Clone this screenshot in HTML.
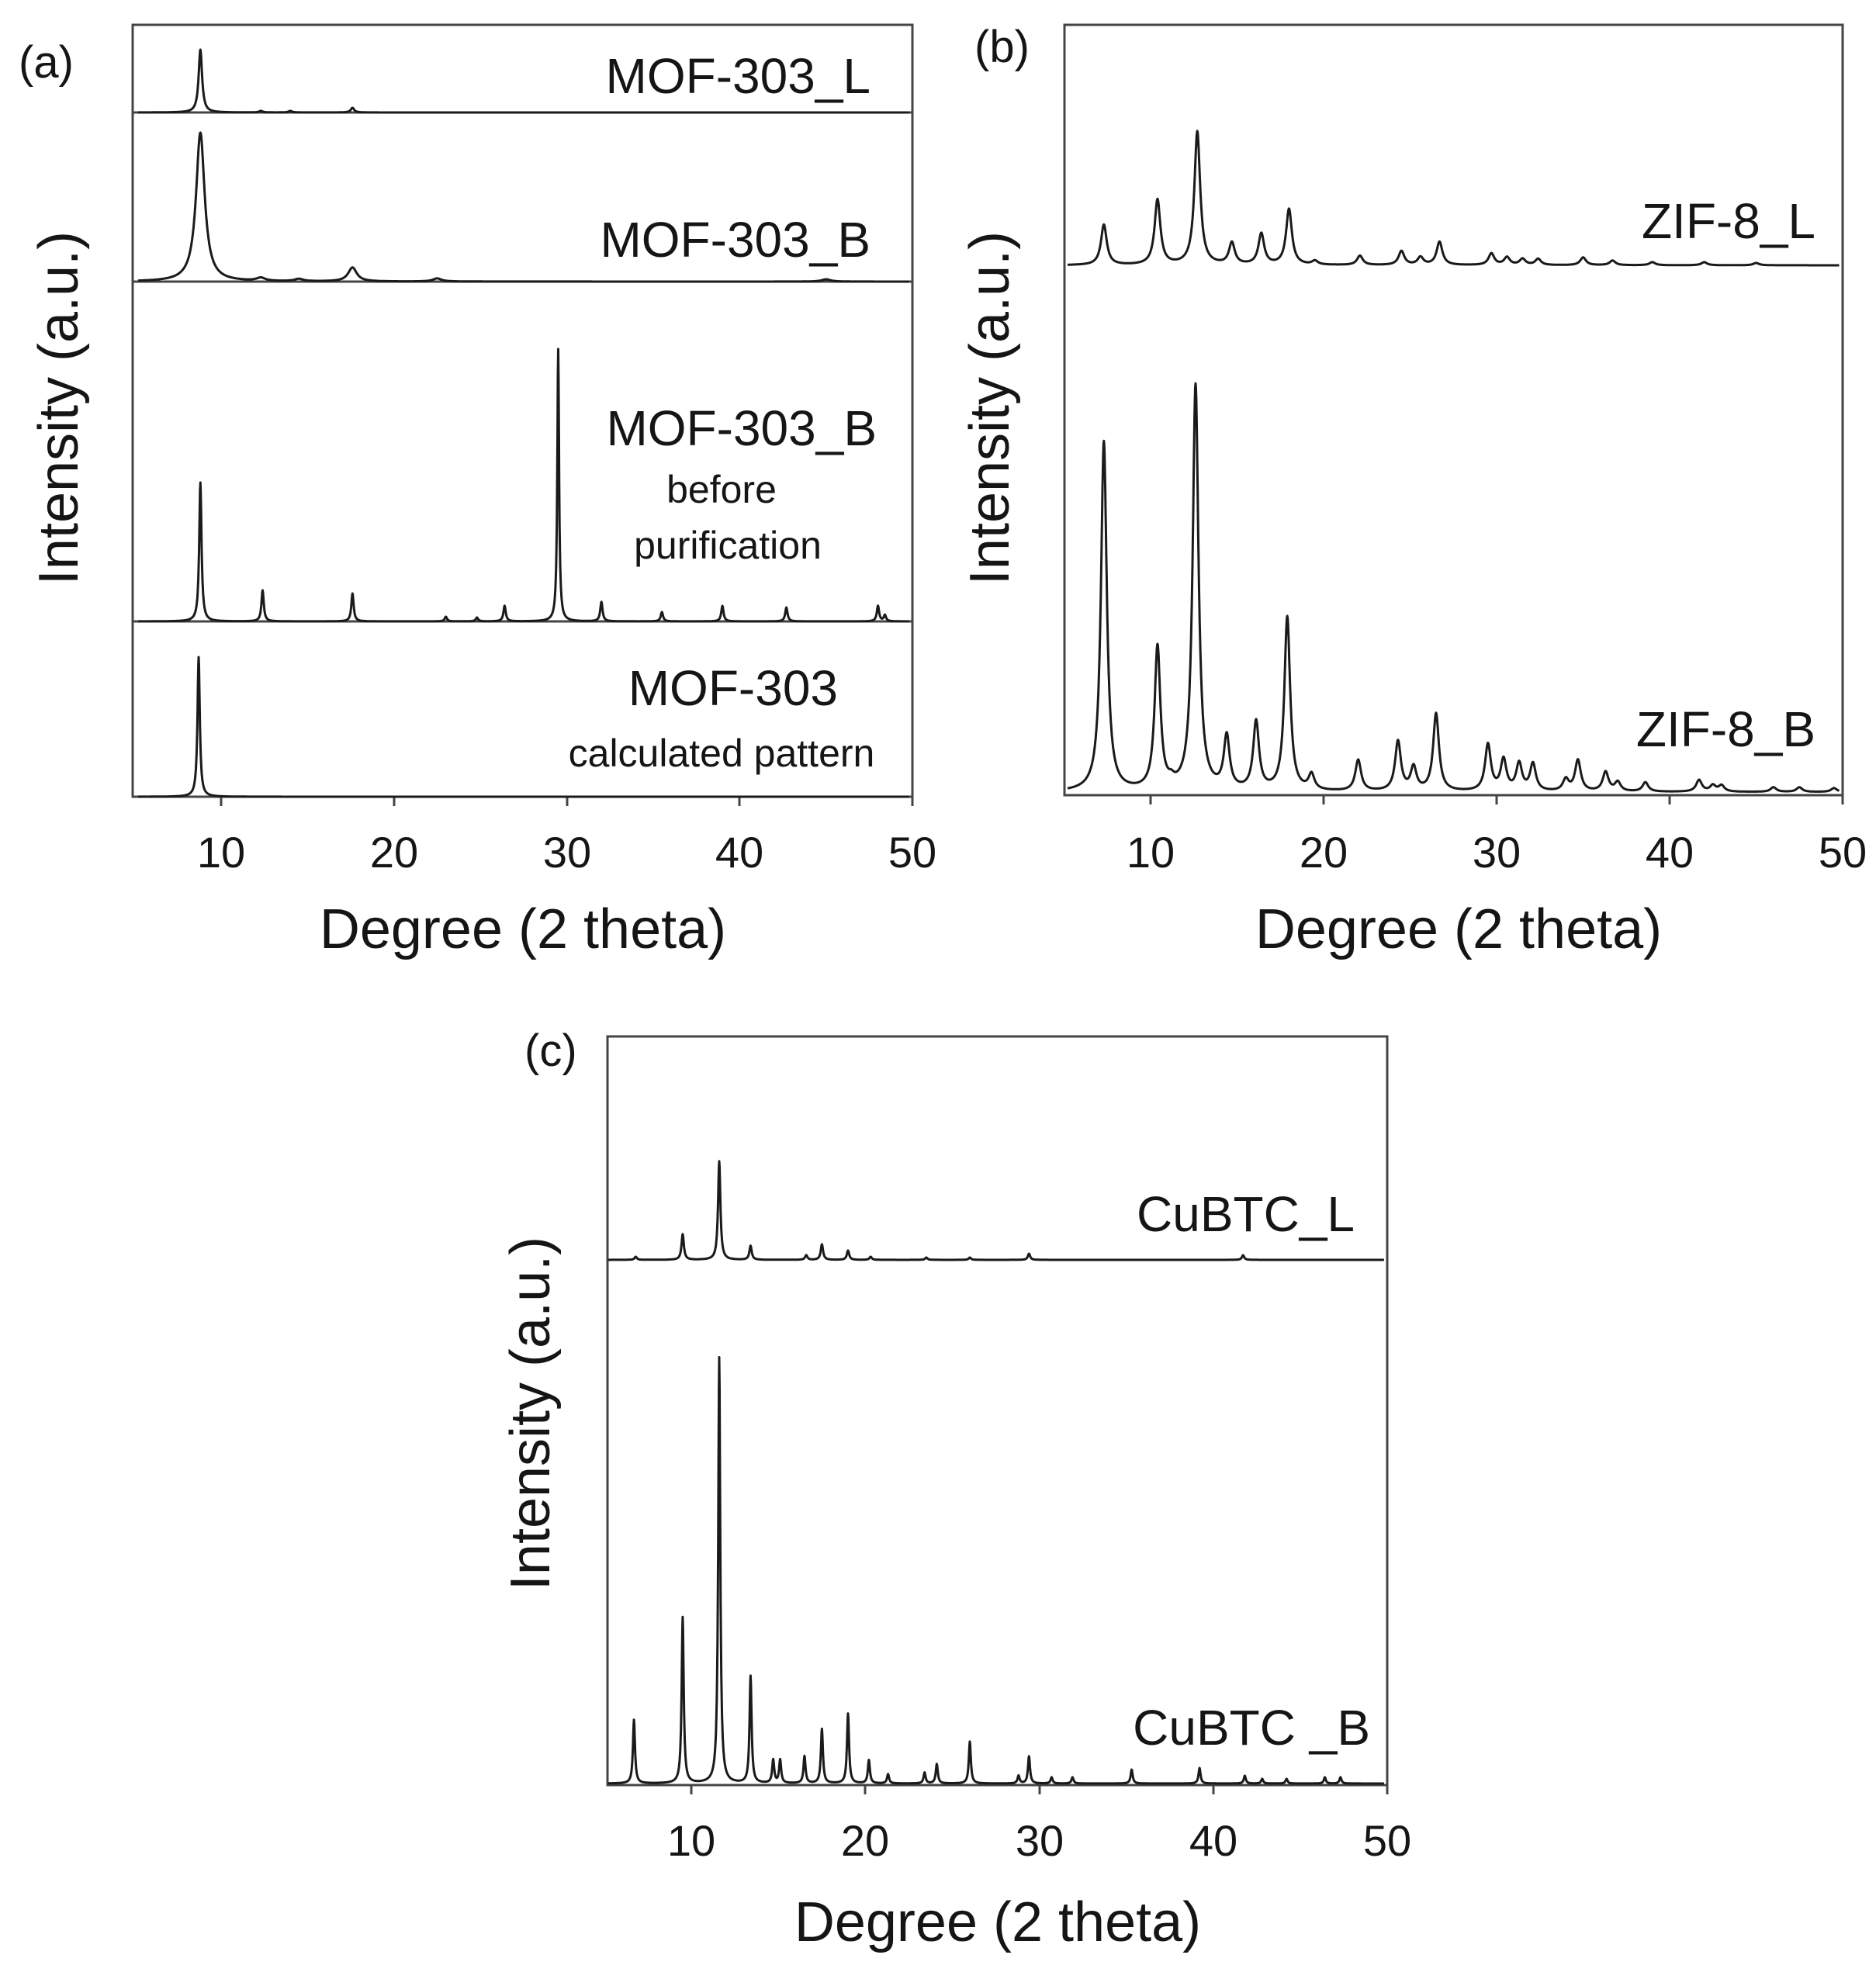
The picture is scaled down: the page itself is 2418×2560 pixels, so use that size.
<!DOCTYPE html>
<html><head><meta charset="utf-8"><style>
html,body{margin:0;padding:0;background:#fff}
svg{display:block}
text{font-family:"Liberation Sans",Arial,sans-serif;fill:#151515}
</style></head><body>
<svg id="s" width="2418" height="2560" viewBox="0 0 2418 2560" xmlns="http://www.w3.org/2000/svg">
<g fill="none" stroke="#444" stroke-width="3">
<rect x="171" y="32" width="1005" height="995"/>
<line x1="171" y1="145" x2="1176" y2="145"/>
<line x1="171" y1="363" x2="1176" y2="363"/>
<line x1="171" y1="801" x2="1176" y2="801"/>
<rect x="1372" y="32" width="1003" height="993"/>
<rect x="783" y="1336" width="1005" height="965"/>
</g>
<g id="ticks" stroke="#444" stroke-width="3"></g>
<g id="lines" fill="none" stroke="#1a1a1a" stroke-width="3" stroke-linejoin="round"></g>
<text x="24" y="100" font-size="58">(a)</text>
<g font-size="56" text-anchor="middle">
<text x="285" y="1118">10</text><text x="508" y="1118">20</text><text x="731" y="1118">30</text><text x="953" y="1118">40</text><text x="1176" y="1118">50</text>
<text x="1483" y="1118">10</text><text x="1706" y="1118">20</text><text x="1929" y="1118">30</text><text x="2152" y="1118">40</text><text x="2375" y="1118">50</text>
<text x="891" y="2392">10</text><text x="1115" y="2392">20</text><text x="1340" y="2392">30</text><text x="1564" y="2392">40</text><text x="1788" y="2392">50</text>
</g>
<g font-size="72" text-anchor="middle">
<text x="674" y="1222">Degree (2 theta)</text>
<text x="1880" y="1222">Degree (2 theta)</text>
<text x="1286" y="2502">Degree (2 theta)</text>
<text transform="translate(100,526) rotate(-90)">Intensity (a.u.)</text>
<text transform="translate(1300,526) rotate(-90)">Intensity (a.u.)</text>
<text transform="translate(708,1822) rotate(-90)">Intensity (a.u.)</text>
</g>
<g font-size="64" text-anchor="end">
<text x="1122" y="120">MOF-303_L</text>
<text x="1122" y="331">MOF-303_B</text>
<text x="1130" y="574">MOF-303_B</text>
<text x="1080" y="909">MOF-303</text>
<text x="2340" y="307">ZIF-8_L</text>
<text x="2340" y="962">ZIF-8_B</text>
<text x="1746" y="1587">CuBTC_L</text>
<text x="1766" y="2249">CuBTC _B</text>
</g>
<g font-size="50" text-anchor="middle">
<text x="930" y="648">before</text>
<text x="938" y="720">purification</text>
<text x="930" y="988">calculated pattern</text>
</g>
<text x="1256" y="80" font-size="58">(b)</text>
<text x="676" y="1374" font-size="58">(c)</text>
</svg>
<script>
var NS="http://www.w3.org/2000/svg";
function tr(y,xs){var g=document.getElementById('ticks');xs.forEach(function(v){var l=document.createElementNS(NS,'line');l.setAttribute('x1',v);l.setAttribute('x2',v);l.setAttribute('y1',y);l.setAttribute('y2',y+12);g.appendChild(l);});}
tr(1027,[285,508,731,953,1176]);
tr(1025,[1483,1706,1929,2152,2375]);
tr(2301,[891,1115,1340,1564,1788]);
function series(px0,ppd,base,w,peaks,x0,x1){
  var d="";
  for(var t=x0;t<=x1+1e-6;t+=0.02){
    var y=0;
    for(var i=0;i<peaks.length;i++){var p=peaks[i];var ww=p[2]||w;var u=(t-p[0])/ww;y+=p[1]/(1+u*u);}
    var X=(px0+(t-5)*ppd).toFixed(1),Y=(base-y).toFixed(1);
    d+=(d?"L":"M")+X+" "+Y;
  }
  var p=document.createElementNS(NS,'path');p.setAttribute('d',d);document.getElementById('lines').appendChild(p);
}
var ax=173.6,ad=22.28;
series(ax,ad,145,0.12,[[8.8,81],[17.6,6],[12.3,2],[14,2]],5.2,49.8);
series(ax,ad,363,0.3,[[8.8,192],[17.6,18],[12.3,4],[22.5,4],[14.5,3],[45,3]],5.2,49.8);
series(ax,ad,801,0.08,[[8.8,179],[29.5,351,0.06],[12.4,40],[17.6,36],[26.4,20],[32,25],[35.5,12],[39,20],[42.7,18],[48,20],[48.4,8],[23,6],[24.8,5]],5.2,49.8);
series(ax,ad,1027,0.08,[[8.7,180]],5.2,49.8);
var bx=1371.5,bd=22.3;
series(bx,bd,342,0.2,[[7.3,52],[10.4,84],[12.7,172],[14.7,28],[16.4,40],[18.0,72],[19.5,5],[22.1,12],[24.5,18],[25.6,10],[26.7,30],[29.7,15],[30.6,10],[31.5,8],[32.4,8],[35,10],[36.7,6],[39,4],[42,4],[45,3]],5.2,49.8);
series(bx,bd,1021,0.2,[[7.3,451],[10.4,184],[12.6,523],[14.4,68],[16.1,88],[17.9,224],[19.3,20],[22,40],[24.3,64],[25.2,30],[26.5,100],[29.5,60],[30.4,40],[31.3,35],[32.1,35],[34,15],[34.7,40],[36.3,25],[37,12],[38.6,12],[41.7,15],[42.5,8],[43,8],[46,6],[47.5,6],[49.5,5],[11.2,6]],5.2,49.8);
var cx=779,cd=22.43;
series(cx,cd,1624,0.08,[[9.5,33],[11.6,127],[13.4,18],[16.6,6],[17.5,20],[19,12],[20.3,4],[29.4,8],[41.7,6],[6.8,4],[23.5,3],[26,3]],5.2,49.8);
series(cx,cd,2299,0.07,[[6.7,82],[9.5,214],[11.6,549],[13.4,138],[14.7,30],[15.1,30],[16.5,35],[17.5,70],[19,90],[20.2,30],[21.3,12],[23.4,14],[24.1,25],[26,54],[28.8,10],[29.4,35],[30.7,8],[31.9,8],[35.3,18],[39.2,20],[41.8,10],[42.8,6],[44.2,6],[46.4,8],[47.3,8]],5.2,49.8);
</script>
</body></html>
